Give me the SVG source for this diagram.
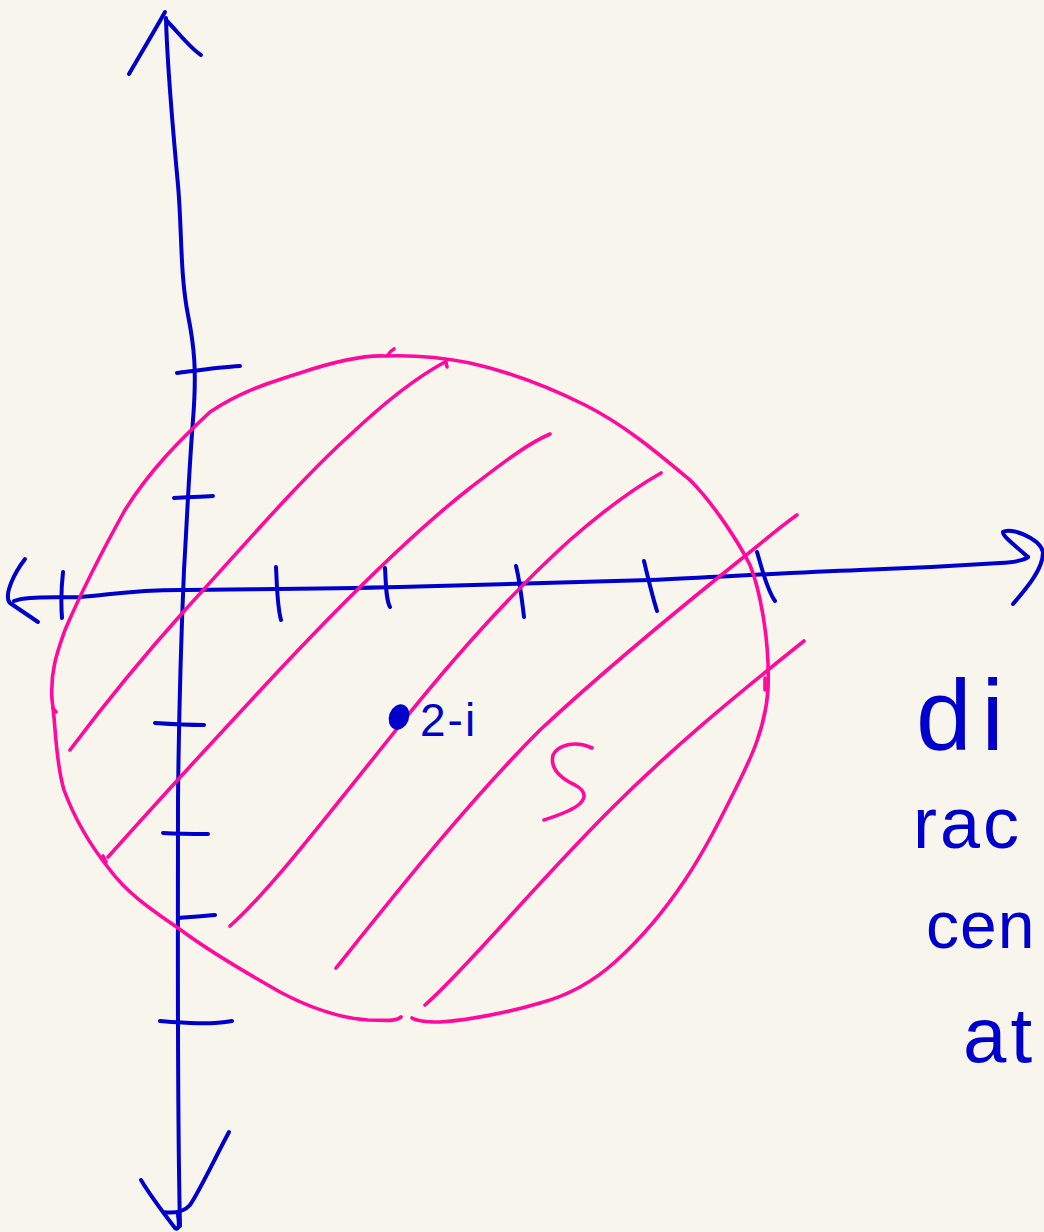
<svg xmlns="http://www.w3.org/2000/svg" width="1044" height="1232" viewBox="0 0 1044 1232">
<style>
.b{fill:none;stroke:#0000CC;stroke-width:4;stroke-linecap:round;stroke-linejoin:round}
.p{fill:none;stroke:#FF0A9C;stroke-width:3.6;stroke-linecap:round;stroke-linejoin:round}
.bt{fill:#0000CC;font-family:"Liberation Sans",Arial,sans-serif}
</style>
<rect width="1044" height="1232" fill="#F8F6EC"/>
<g id="y-axis">
<path class="b" d="M166,18 C167,60 172,120 178,185 C182,230 180,275 188,315 C194,345 197,370 193,420 C189,470 187,520 184,570 C181,640 179,700 178,800 C178,950 177,1100 180,1226"/>
<path class="b" d="M129,74 C140,55 155,30 165,12 M166,20 C178,32 190,48 201,55"/>
<path class="b" d="M229,1132 C215,1158 200,1190 190,1205 C182,1214 170,1213 163,1212 M141,1180 C150,1195 165,1215 175,1228 C178,1230 180,1228 178,1215"/>
<path class="b" d="M177,373 C200,370 220,367 240,366 M174,498 C190,497 200,497 213,496 M155,723 C170,724 185,725 204,725 M163,833 C180,834 195,834 208,834 M178,918 C192,917 203,916 215,915 M160,1021 C185,1023 210,1025 232,1021"/>
</g>
<g id="x-axis">
<path class="b" d="M14,601 C25,596 50,598 80,597 C110,595 130,590 180,590 C250,589 320,589 400,587 C480,585 560,583 650,580 C720,577 780,573 860,570 C920,568 970,565 1000,563 C1015,562 1025,560 1028,557"/>
<path class="b" d="M1028,557 C1018,548 1002,536 1003,532 C1010,527 1040,538 1043,552 C1043,570 1025,590 1013,604"/>
<path class="b" d="M25,559 C15,572 3,595 10,603 L38,622"/>
<path class="b" d="M63,572 C61,590 61,605 62,618 M276,567 C277,585 277,605 281,620 M385,568 C386,585 386,600 390,607 M516,566 C520,582 522,600 524,617 M644,561 C648,578 652,595 657,611 M757,552 C762,568 766,588 775,601"/>
</g>
<g id="disc">
<path class="p" d="M385,356 C410,355 440,357 470,363 C510,372 545,385 585,405 C625,425 660,455 690,480 C715,505 740,545 750,565 C760,590 770,640 768,690 C765,730 750,760 735,790 C720,820 705,850 685,880 C665,910 645,935 615,962 C595,980 570,995 540,1003 C510,1012 470,1020 440,1022 C425,1022 415,1020 412,1018 M401,1017 C395,1022 385,1020 368,1020 C340,1018 310,1008 280,992 C250,975 215,955 185,933 C160,915 130,897 110,870 C90,845 75,820 64,790 C55,760 56,725 52,700 C50,670 58,650 65,630 C80,595 100,555 125,510 C150,470 180,440 210,412 C240,392 265,384 300,373 C330,363 360,355 385,356"/>
<path class="p" d="M388,355 C390,351 392,350 394,349 M446,362 L447,367 M56,712 L53,708 M103,856 L106,862 M765,678 L765,690"/>
</g>
<g id="hatching">
<path class="p" d="M70,750 C100,710 140,660 185,610 C240,550 300,480 350,435 C385,402 415,378 445,362"/>
<path class="p" d="M108,857 C150,810 200,755 270,680 C340,605 410,535 470,488 C500,465 525,445 550,434"/>
<path class="p" d="M230,926 C270,890 320,825 400,725 C460,650 520,585 570,540 C610,505 640,485 661,473"/>
<path class="p" d="M336,968 C400,888 470,800 540,730 C610,665 690,600 740,560 C765,540 785,523 797,515"/>
<path class="p" d="M425,1005 C470,965 530,890 610,810 C670,750 730,700 804,641"/>
<path class="p" d="M592,748 C575,740 558,745 553,755 C550,768 560,778 575,785 C590,793 585,803 570,810 C560,815 550,818 544,820"/>
</g>
<g id="point">
<ellipse cx="399" cy="717" rx="10" ry="13" transform="rotate(20 399 717)" fill="#0000CC"/>
<text class="bt" x="420" y="736" font-size="46" letter-spacing="2">2-i</text>
</g>
<g id="note">
<text class="bt" x="916" y="750" font-size="100" letter-spacing="10">di</text>
<text class="bt" x="913" y="848" font-size="72" letter-spacing="3">rac</text>
<text class="bt" x="926" y="948" font-size="66" letter-spacing="1">cen</text>
<text class="bt" x="963" y="1062" font-size="78" letter-spacing="4">at</text>
</g>
</svg>
